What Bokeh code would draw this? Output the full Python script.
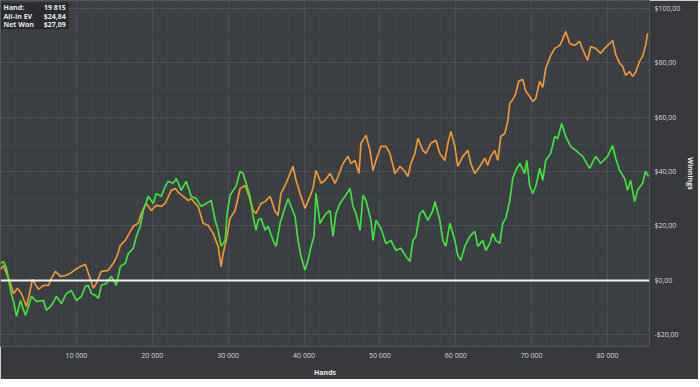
from bokeh.plotting import figure
from bokeh.models import (Range1d, FixedTicker, CustomJSTickFormatter, Span,
                          BoxAnnotation, Label, ColumnDataSource)
from bokeh.embed import file_html
from bokeh.resources import INLINE

# ---- data (hands in thousands, winnings in $) ----
ev_hands_k = [0, 0.39, 0.79, 1.32, 1.71, 2.24, 2.76, 3.42, 3.82, 4.21, 5.0, 5.66, 6.32, 6.71, 7.24,
              7.89, 8.55, 9.21, 9.87, 10.53, 11.18, 11.58, 12.24, 12.63, 13.29, 14.21, 14.87, 15.4,
              15.79, 16.45, 17.11, 17.5, 18.16, 18.55, 19.21, 19.87, 20.53, 21.19, 21.71, 22.5,
              23.03, 23.55, 24.08, 24.74, 25.13, 25.66, 26.05, 26.71, 27.37, 28.03, 28.68, 29.08,
              29.34, 29.74, 30.26, 30.92, 31.58, 32.24, 32.63, 33.29, 33.68, 34.34, 34.87, 35.53,
              36.18, 36.58, 36.97, 37.63, 38.16, 38.55, 38.95, 39.47, 40.13, 40.79, 41.18, 41.58,
              42.24, 42.77, 43.43, 44.09, 44.48, 45.14, 45.8, 46.19, 46.72, 47.24, 47.51, 48.17,
              48.69, 49.09, 49.48, 50.14, 50.8, 51.32, 51.98, 52.64, 53.3, 53.69, 54.09, 54.61,
              55.01, 55.67, 56.06, 56.72, 57.38, 57.9, 58.56, 58.96, 59.35, 59.88, 60.27, 60.93,
              61.59, 61.98, 62.51, 63.17, 63.83, 64.22, 64.62, 65.14, 65.54, 65.93, 66.46, 66.85,
              67.12, 67.51, 67.91, 68.3, 68.83, 69.22, 69.75, 70.14, 70.54, 71.06, 71.46, 71.85,
              72.51, 73.04, 73.7, 74.09, 74.49, 75.01, 75.67, 76.33, 76.72, 77.38, 77.78, 78.43,
              79.09, 79.62, 80.28, 80.67, 81.07, 81.6, 81.99, 82.38, 82.91, 83.3, 83.7, 84.22,
              84.62, 85.01, 85.28]
allin_ev = [4.0, 5.5, 2.6, -1.1, -4.8, -2.9, -4.8, -9.6, -4.8, 0.4, -3.3, -1.8, -1.8, 0.7, 3.3,
            1.5, 1.8, 2.6, 4.0, 5.1, 5.9, 2.6, -2.9, -1.1, 3.3, 3.7, 6.3, 9.2,
            12.9, 14.7, 18.0, 19.9, 21.0, 24.6, 28.3, 25.7, 27.6, 27.2, 28.3, 33.1,
            33.8, 32.0, 30.9, 29.4, 30.1, 28.3, 27.2, 21.0, 20.2, 17.3, 12.5, 5.1,
            9.9, 14.7, 22.8, 25.7, 33.8, 34.9, 32.0, 25.7, 24.6, 28.3, 29.0, 30.9,
            25.4, 23.9, 32.0, 35.7, 39.3, 41.9, 36.8, 32.0, 26.5, 30.9, 33.8, 40.4,
            35.7, 36.8, 39.3, 35.7, 38.2, 43.0, 45.6, 43.0, 44.1, 39.3, 50.4, 53.3,
            47.8, 40.4, 44.1, 49.3, 49.3, 46.7, 39.3, 41.9, 40.1, 38.2, 43.0, 46.7,
            52.2, 47.8, 46.7, 50.4, 51.5, 46.7, 44.1, 50.4, 54.8, 49.3, 41.9, 45.6,
            47.8, 43.0, 39.3, 41.9, 44.9, 42.3, 45.6, 47.8, 44.1, 52.9, 54.0, 58.5,
            65.1, 66.5, 68.8, 73.2, 73.9, 69.5, 67.6, 65.8, 66.9, 73.2, 71.0, 77.9,
            82.7, 85.3, 86.4, 88.6, 91.5, 87.1, 86.4, 87.9, 84.9, 80.9, 86.0, 85.3,
            83.5, 85.3, 87.1, 88.2, 83.1, 79.8, 78.7, 75.4, 76.8, 75.0, 76.5, 80.5,
            82.4, 86.4, 90.8]

won_hands_k = [0, 0.39, 0.79, 1.32, 1.71, 2.11, 2.63, 3.29, 3.68, 4.08, 4.74, 5.66, 6.05, 6.71,
               7.37, 8.03, 8.69, 9.34, 10.0, 10.66, 11.18, 11.58, 11.97, 12.5, 12.9, 13.29, 13.95,
               14.61, 15.26, 15.79, 16.45, 16.84, 17.5, 17.9, 18.42, 18.82, 19.47, 20.13, 20.53,
               21.19, 21.71, 22.11, 22.76, 23.16, 23.82, 24.47, 25.13, 25.79, 26.45, 27.11, 27.76,
               28.29, 28.68, 29.08, 29.61, 29.87, 30.26, 30.66, 31.05, 31.58, 31.97, 32.37, 32.89,
               33.29, 33.68, 33.95, 34.34, 34.87, 35.26, 35.92, 36.32, 36.84, 37.24, 37.9, 38.29,
               38.82, 39.21, 39.61, 40.13, 40.53, 40.92, 41.32, 41.58, 42.11, 42.5, 42.9, 43.43,
               43.82, 44.22, 44.74, 45.4, 46.06, 46.45, 46.85, 47.38, 47.77, 48.17, 48.82, 49.09,
               49.48, 50.14, 50.8, 51.46, 52.11, 52.77, 53.43, 53.96, 54.35, 54.75, 55.27, 55.67,
               56.32, 56.98, 57.25, 57.9, 58.3, 58.69, 59.22, 59.88, 60.27, 60.67, 61.19, 61.85,
               62.51, 62.9, 63.56, 63.96, 64.48, 64.88, 65.27, 65.8, 66.19, 66.59, 67.12, 67.51,
               67.91, 68.43, 69.09, 69.35, 69.75, 70.14, 70.54, 71.06, 71.46, 71.85, 72.51, 73.04,
               73.43, 73.96, 74.49, 75.14, 75.8, 76.72, 77.64, 78.43, 79.09, 80.01, 80.67, 81.07,
               81.6, 82.25, 82.65, 83.04, 83.57, 83.96, 84.62, 85.01, 85.41]
net_won = [6.3, 7.0, 4.4, -3.7, -7.7, -13.2, -7.4, -12.9, -9.6, -5.9, -7.7, -7.4, -11.0, -9.2,
           -5.9, -8.5, -4.8, -3.7, -7.4, -5.9, -2.2, -1.8, -4.8, -5.5, -6.6, -1.8, -1.1,
           1.5, -1.8, 5.1, 6.3, 9.9, 11.8, 16.2, 19.9, 25.7, 30.9, 28.3, 32.0,
           30.9, 34.6, 36.4, 35.7, 37.5, 33.1, 36.4, 30.9, 30.1, 27.2, 28.3, 29.4,
           22.1, 18.4, 12.5, 14.7, 24.6, 31.3, 33.1, 34.6, 40.1, 39.3, 35.7, 30.9,
           23.5, 18.4, 22.1, 22.8, 18.4, 19.9, 14.7, 12.5, 21.0, 24.6, 30.1, 27.2,
           23.5, 14.7, 8.8, 3.7, 7.4, 12.5, 16.2, 32.0, 21.0, 22.8, 24.6, 25.7,
           16.2, 24.6, 28.3, 30.9, 33.8, 27.2, 24.6, 18.4, 31.3, 29.4, 22.1, 14.7,
           22.1, 19.1, 13.6, 14.7, 11.0, 11.8, 8.8, 7.0, 14.7, 16.2, 24.6, 25.7,
           22.1, 25.7, 29.0, 22.1, 14.7, 12.5, 21.0, 14.7, 9.2, 7.4, 12.5, 16.2,
           18.0, 12.5, 14.7, 11.0, 13.6, 17.3, 14.7, 13.6, 21.0, 22.8, 29.4, 37.5,
           40.4, 43.0, 39.3, 44.1, 34.6, 32.0, 34.6, 41.2, 36.8, 44.1, 46.7, 52.9,
           52.2, 57.7, 52.9, 49.3, 47.8, 45.6, 41.2, 45.6, 43.0, 45.6, 49.6, 44.9,
           40.4, 37.5, 33.1, 36.8, 29.0, 33.1, 35.7, 40.1, 38.2]

x_ticks = [10000, 20000, 30000, 40000, 50000, 60000, 70000, 80000]
y_ticks = [-20, 0, 20, 40, 60, 80, 100]
info_rows = ["Hand:", "All-In EV", "Net Won"]
info_vals = ["19 815", "$24,84", "$27,09"]

ev_src = ColumnDataSource(dict(x=[v * 1000 for v in ev_hands_k], y=allin_ev))
won_src = ColumnDataSource(dict(x=[v * 1000 for v in won_hands_k], y=net_won))

FONT = "Open Sans"
TXT = "#d8d8d8"

p = figure(frame_width=649, frame_height=346, output_backend="svg", toolbar_location=None,
           x_range=Range1d(0, 85530), y_range=Range1d(-24.3, 102.9),
           y_axis_location="right",
           min_border_left=0, min_border_top=0, min_border_right=0, min_border_bottom=0)

p.background_fill_color = "#3b3e43"
p.border_fill_color = "#37393d"
p.outline_line_color = "#52555a"
p.outline_line_width = 1

# axes
for ax in (p.xaxis[0], p.yaxis[0]):
    ax.axis_line_color = None
    ax.major_tick_line_color = None
    ax.minor_tick_line_color = None
    ax.major_tick_out = 0
    ax.major_tick_in = 0
    ax.minor_tick_out = 0
    ax.minor_tick_in = 0
    ax.major_label_text_color = TXT
    ax.major_label_text_font = FONT
    ax.major_label_text_font_size = "7px"
    ax.axis_label_text_color = "#e8e8e8"
    ax.axis_label_text_font = FONT
    ax.axis_label_text_font_size = "7px"
    ax.axis_label_text_font_style = "bold"

p.xaxis.ticker = FixedTicker(ticks=x_ticks, minor_ticks=list(range(2000, 86000, 2000)))
p.xaxis.formatter = CustomJSTickFormatter(code="""
    return tick.toString().replace(/\\B(?=(\\d{3})+(?!\\d))/g, ' ');
""")
p.xaxis.axis_label = "Hands"
p.xaxis.major_label_standoff = 4
p.xaxis.axis_label_standoff = 5

p.yaxis.ticker = FixedTicker(ticks=y_ticks, minor_ticks=list(range(-20, 110, 10)))
p.yaxis.formatter = CustomJSTickFormatter(code="""
    const s = '$' + Math.abs(tick).toFixed(2).replace('.', ',');
    return tick < 0 ? '-' + s : s;
""")
p.yaxis.axis_label = "Winnings"
p.yaxis.major_label_standoff = 5
p.yaxis.axis_label_standoff = 3

# grids
p.xgrid.grid_line_color = "#4b4e53"
p.ygrid.grid_line_color = "#4b4e53"
p.xgrid.minor_grid_line_color = "#414449"
p.ygrid.minor_grid_line_color = "#414449"

# series
p.line("x", "y", source=ev_src, line_color="#f0962f", line_width=1.7)
p.line("x", "y", source=won_src, line_color="#3de33a", line_width=1.7)

# zero line
p.add_layout(Span(location=0, dimension="width", line_color="#f2f2f2", line_width=2))

# info box
p.add_layout(BoxAnnotation(left=100, right=9000, top=102.2, bottom=92.3,
                           fill_color="#2a2c30", fill_alpha=1, line_color=None))
row_y = [100.4, 97.2, 94.2]
for name, val, yy in zip(info_rows, info_vals, row_y):
    p.add_layout(Label(x=400, y=yy, text=name, text_font=FONT, text_font_size="7px",
                       text_font_style="bold", text_color="#e6e6e6", text_baseline="middle"))
    p.add_layout(Label(x=8600, y=yy, text=val, text_font=FONT, text_font_size="7px",
                       text_font_style="bold", text_color="#e6e6e6", text_baseline="middle",
                       text_align="right"))

open("out.html", "w").write(file_html(p, INLINE))
